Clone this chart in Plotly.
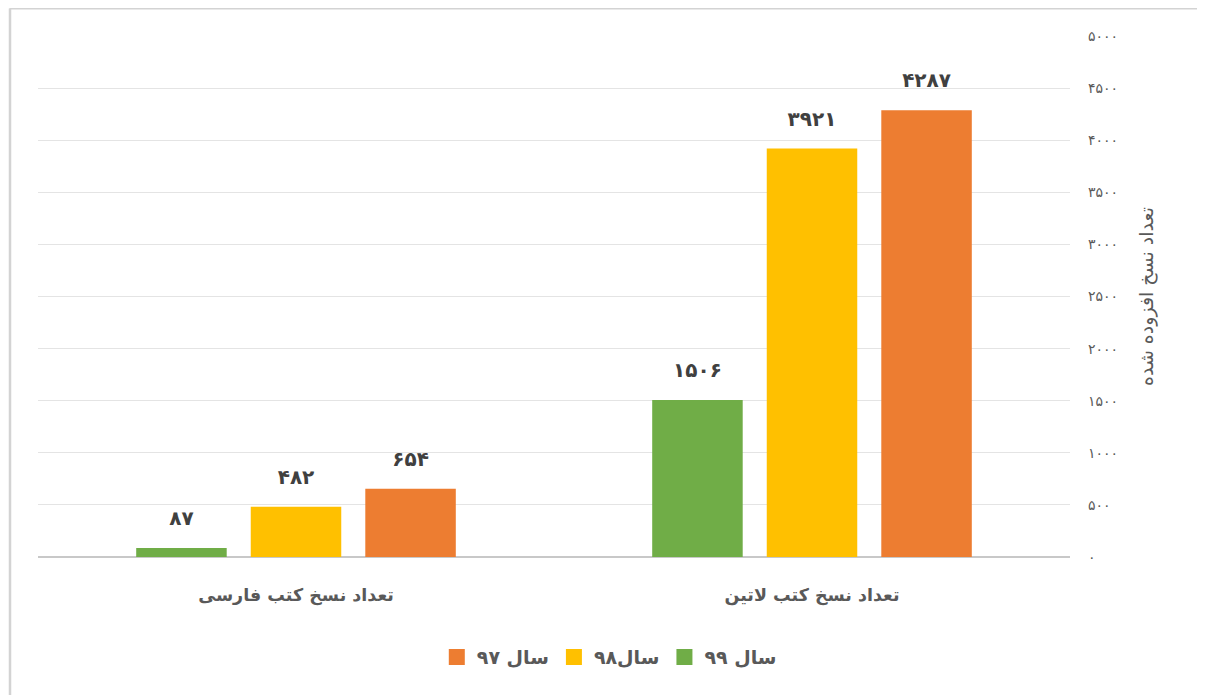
import plotly.graph_objects as go

categories = ["تعداد نسخ کتب لاتین", "تعداد نسخ کتب فارسی"]
series_names = ["سال ۹۷", "سال۹۸", "سال ۹۹"]
values_97 = [4287, 654]
values_98 = [3921, 482]
values_99 = [1506, 87]
colors = ["#ED7D31", "#FFC000", "#70AD47"]
tick_vals = [0, 500, 1000, 1500, 2000, 2500, 3000, 3500, 4000, 4500, 5000]
tick_text = ["۰", "۵۰۰", "۱۰۰۰", "۱۵۰۰", "۲۰۰۰", "۲۵۰۰", "۳۰۰۰", "۳۵۰۰", "۴۰۰۰", "۴۵۰۰", "۵۰۰۰"]
y_title = "تعداد نسخ افزوده شده"

PERSIAN = str.maketrans("0123456789", "۰۱۲۳۴۵۶۷۸۹")


def fa(v):
    return str(v).translate(PERSIAN)


FONT = "DejaVu Sans"
GRAY = "#595959"

fig = go.Figure()
for name, vals, col in zip(series_names, [values_97, values_98, values_99], colors):
    fig.add_trace(go.Bar(
        x=categories, y=vals, name=name, showlegend=False,
        marker=dict(color=col, line=dict(width=0)),
        text=["<span style='font-size:20px'>" + fa(v) + "</span><br> " for v in vals],
        textposition="outside", cliponaxis=False,
        textfont=dict(family=FONT, size=13, color="#404040", weight=700),
    ))
# legend entries (square swatches)
for name, col in zip(series_names, colors):
    fig.add_trace(go.Scatter(
        x=[categories[0]], y=[None], name=name, mode="markers",
        marker=dict(symbol="square", size=17, color=col),
    ))

W, H = 1205, 695
L, R, T, B = 30, 143, 28, 146
pw, ph = W - L - R, H - T - B

fig.update_layout(
    width=W, height=H,
    margin=dict(l=L, r=R, t=T, b=B),
    paper_bgcolor="white", plot_bgcolor="white",
    barmode="group", bargap=0.334, bargroupgap=0.21,
    font=dict(family=FONT, color=GRAY),
    showlegend=True,
    legend=dict(orientation="h", xref="container", yref="container",
                x=0.499, y=0.066, xanchor="center", yanchor="middle",
                font=dict(family=FONT, size=19, color=GRAY, weight=700),
                itemwidth=30, tracegroupgap=0),
    xaxis=dict(autorange="reversed", showgrid=False, showline=False,
               ticks="", ticklabelstandoff=25,
               tickfont=dict(family=FONT, size=17.5, color=GRAY, weight=700)),
    yaxis=dict(side="right", range=[0, 5000], tickvals=tick_vals, ticktext=tick_text,
               showgrid=True, gridcolor="#e4e4e4", gridwidth=1,
               zeroline=True, zerolinecolor="#c8c8c8", zerolinewidth=1.5,
               ticks="", ticklabelstandoff=17,
               tickfont=dict(family=FONT, size=14, color=GRAY),
               title=dict(text=y_title, standoff=22,
                          font=dict(family=FONT, size=19, color=GRAY))),
    shapes=[
        dict(type="line", xref="paper", yref="paper",
             x0=(1.5 - L) / pw, x1=1.5, y0=(H - B - 0.5) / ph, y1=(H - B - 0.5) / ph,
             line=dict(color="#d3d3d3", width=2)),
        dict(type="line", xref="paper", yref="paper",
             x0=(2 - L) / pw, x1=(2 - L) / pw, y0=-0.5, y1=(H - B - 0.5) / ph,
             line=dict(color="#d3d3d3", width=2.5)),
    ],
)

fig.write_html("out.html")
